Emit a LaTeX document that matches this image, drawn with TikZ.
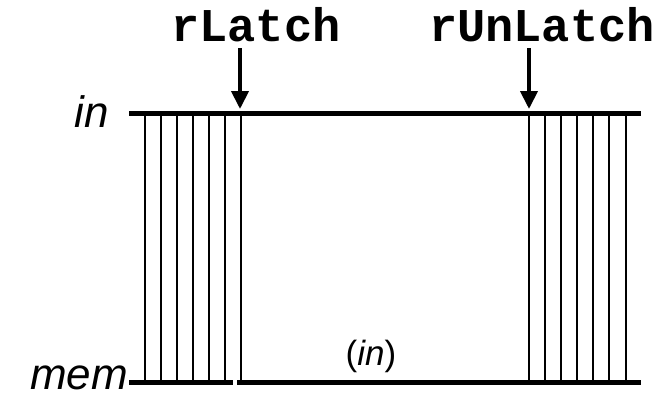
\documentclass[tikz,border=0pt]{standalone}
\usepackage{fontspec}
\setmainfont{Liberation Sans}
\newfontfamily\codefont{Liberation Mono}
\usetikzlibrary{arrows.meta}
\begin{document}
\begin{tikzpicture}[x=1pt,y=-1pt,
  signal/.style={line width=4.5pt},
  tick/.style={line width=1.6pt},
  event/.style={line width=4pt,-{Triangle[width=17pt,length=18pt]}},
  codelabel/.style={font=\codefont\bfseries\fontsize{47}{47}\selectfont,anchor=base,inner sep=0pt},
  sig/.style={font=\itshape\fontsize{44}{44}\selectfont,anchor=base east,inner sep=0pt,text depth=0pt},
  note/.style={font=\fontsize{35}{35}\selectfont,anchor=base,inner sep=0pt}]
\useasboundingbox (0,0) rectangle (672,397);

% signal labels
\node[sig] (inlbl) at (109,127) {in};
\node[sig] (memlbl) at (128,389) {mem};

% traces
\coordinate (inA) at (129,113.5);
\coordinate (inB) at (641,113.5);
\coordinate (memA) at (129,382.5);
\coordinate (memB) at (233,382.5);
\coordinate (memC) at (237,382.5);
\coordinate (memD) at (641,382.5);
\draw[signal] (inA) -- (inB);
\draw[signal] (memA) -- (memB);
\draw[signal] (memC) -- (memD);

% transparent phases
\foreach \x in {145,161,177,193,209,225,241,529,545,561,577,593,609,626}
  \draw[tick] (\x,116) -- (\x,380);

% events
\node[codelabel] (latch) at (256,41) {rLatch};
\node[codelabel] (unlatch) at (542,41) {rUnLatch};
\coordinate (latchAt) at (240,109);
\coordinate (unlatchAt) at (529,109);
\draw[event] (240,48) -- (latchAt);
\draw[event] (529,48) -- (unlatchAt);

\node[note] (held) at (371,365) {(\textit{in})};
\end{tikzpicture}
\end{document}
